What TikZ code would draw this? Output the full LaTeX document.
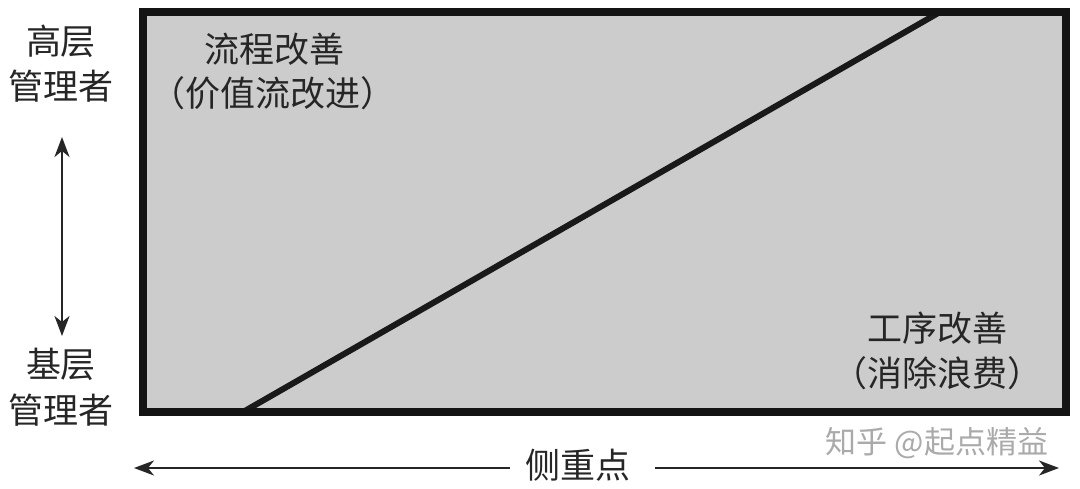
\documentclass[tikz,border=0pt]{standalone}
\usepackage{fontspec}
\newfontfamily\cjk{Noto Sans CJK SC}
\usetikzlibrary{arrows.meta}
\definecolor{boxgray}{RGB}{204,204,204}
\definecolor{wmgray}{RGB}{170,170,170}
\begin{document}
\begin{tikzpicture}[x=1pt,y=-1pt,
  lbl/.style={font=\cjk\fontsize{35}{42}\selectfont, text=black!85, inner sep=0pt, align=center},
  wm/.style={font=\cjk\fontsize{31}{36}\selectfont, text=wmgray, inner sep=0pt},
  arr/.style={line width=2pt, black!85, -{Stealth[length=20pt,width=15pt,inset=6pt]}}]
\useasboundingbox (0,0) rectangle (1080,488);
\fill[white] (0,0) rectangle (1080,488);
% box
\coordinate (tl) at (143,12);
\coordinate (br) at (1066,412);
\fill[boxgray] (tl) rectangle (br);
\coordinate (dA) at (243,412);
\coordinate (dB) at (940,12);
\begin{scope}
\clip (tl) rectangle (br);
\draw[line width=6pt, black!90] (dA) -- (dB);
\end{scope}
\draw[line width=8pt, black!92] (tl) rectangle (br);
% box texts
\node[lbl] (p1) at (274,49) {流程改善};
\node[lbl] (p2) at (273,93) {（价值流改进）};
\node[lbl] (q1) at (937,328) {工序改善};
\node[lbl] (q2) at (937,373) {（消除浪费）};
% left labels
\node[lbl] (top1) at (61,41) {高层};
\node[lbl] (top2) at (61,86) {管理者};
\node[lbl] (bot1) at (61,364) {基层};
\node[lbl] (bot2) at (61,410) {管理者};
\coordinate (vu) at (62,137);
\coordinate (vd) at (62,336);
\coordinate (vm) at (62,236);
\draw[arr] (vm) -- (vu);
\draw[arr] (vm) -- (vd);
% bottom axis
\node[lbl] (focus) at (578,465) {侧重点};
\coordinate (hl) at (134,468);
\coordinate (hls) at (510,468);
\coordinate (hr) at (1059,468);
\coordinate (hrs) at (655,468);
\draw[arr] (hls) -- (hl);
\draw[arr] (hrs) -- (hr);
% watermark
\node[wm] (mark) at (937,443) {知乎 @起点精益};
\end{tikzpicture}
\end{document}
